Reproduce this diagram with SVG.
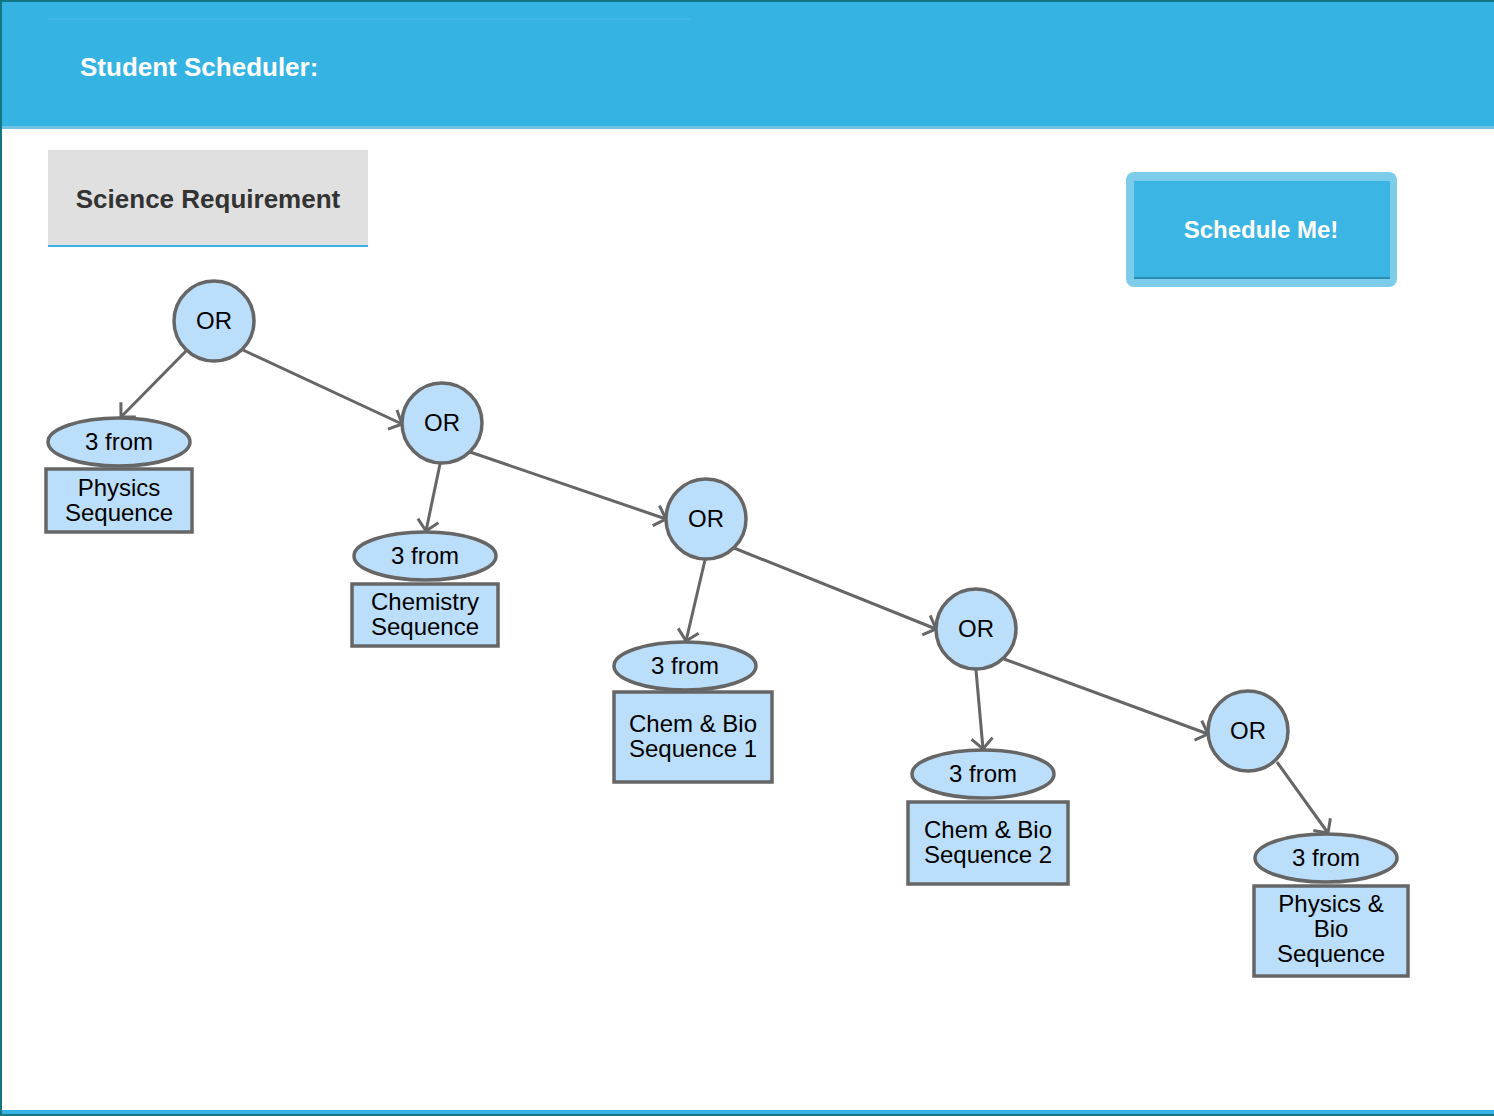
<svg xmlns="http://www.w3.org/2000/svg" width="1494" height="1116" viewBox="0 0 1494 1116">
  <style>
    text { font-family: "Liberation Sans", Arial, Helvetica, sans-serif; }
    .or { fill: #bbdefb; stroke: #666666; stroke-width: 3.5; }
    .node { fill: #bbdefb; stroke: #666666; stroke-width: 3.5; }
    .lbl { font-size: 24px; fill: #000000; text-anchor: middle; }
    .edge { stroke: #666666; stroke-width: 3; fill: none; marker-end: url(#vhead); }
  </style>
  <defs>
    <marker id="vhead" markerUnits="userSpaceOnUse" markerWidth="30" markerHeight="30" viewBox="-15 -15 30 30" refX="0" refY="0" orient="auto">
      <path d="M-10.5,-10.5 L0,0 L-10.5,10.5" fill="none" stroke="#666666" stroke-width="3"/>
    </marker>
  </defs>

  <!-- page background and frame -->
  <rect x="0" y="0" width="1494" height="1116" fill="#ffffff"/>
  <rect x="0" y="0" width="1494" height="129" fill="#35b4e4"/>
  <rect x="0" y="126" width="1494" height="3" fill="#72c3e3"/>
  <line x1="48" y1="19" x2="690" y2="19" stroke="#4dbde8" stroke-width="1"/>
  <rect x="0" y="1110" width="1494" height="4" fill="#35b4e4"/>
  <rect x="0" y="1114" width="1494" height="2" fill="#127782"/>
  <rect x="0" y="0" width="1494" height="2" fill="#127782"/>
  <rect x="0" y="0" width="2" height="1116" fill="#127782"/>

  <g id="header">
    <text x="80" y="76" font-size="26" font-weight="bold" fill="#ffffff">Student Scheduler:</text>
  </g>

  <g id="science-tab">
    <rect x="48" y="150" width="320" height="95" fill="#e0e0e0"/>
    <rect x="48" y="245" width="320" height="2" fill="#35b4e4"/>
    <text x="208" y="208" font-size="26" font-weight="bold" fill="#333333" text-anchor="middle">Science Requirement</text>
  </g>

  <g id="schedule-button">
    <rect x="1126" y="172" width="271" height="115" rx="8" fill="#7dcdea"/>
    <rect x="1134" y="181" width="256" height="98" fill="#3bb5e4"/>
    <rect x="1134" y="277" width="256" height="2" fill="#2a8db6"/>
    <text x="1261" y="238" font-size="24" font-weight="bold" fill="#ffffff" text-anchor="middle">Schedule Me!</text>
  </g>

  <!-- connectors -->
  <g id="connectors">
    <line class="edge" x1="186" y1="351" x2="121" y2="417"/>
    <line class="edge" x1="243" y1="350" x2="402" y2="424"/>
    <line class="edge" x1="440" y1="464" x2="426" y2="531"/>
    <line class="edge" x1="470" y1="452" x2="666" y2="519"/>
    <line class="edge" x1="705" y1="560" x2="686" y2="641"/>
    <line class="edge" x1="734" y1="548" x2="936" y2="629"/>
    <line class="edge" x1="976" y1="670" x2="983" y2="749"/>
    <line class="edge" x1="1004" y1="659" x2="1208" y2="734"/>
    <line class="edge" x1="1277" y1="762" x2="1328" y2="833"/>
  </g>

  <!-- OR nodes -->
  <g id="or1"><circle class="or" cx="214" cy="321" r="40"/><text class="lbl" x="214" y="329">OR</text></g>
  <g id="or2"><circle class="or" cx="442" cy="423" r="40"/><text class="lbl" x="442" y="431">OR</text></g>
  <g id="or3"><circle class="or" cx="706" cy="519" r="40"/><text class="lbl" x="706" y="527">OR</text></g>
  <g id="or4"><circle class="or" cx="976" cy="629" r="40"/><text class="lbl" x="976" y="637">OR</text></g>
  <g id="or5"><circle class="or" cx="1248" cy="731" r="40"/><text class="lbl" x="1248" y="739">OR</text></g>

  <!-- "3 from" selectors with their course sequences -->
  <g id="physics">
    <ellipse class="node" cx="119" cy="442" rx="71" ry="24"/>
    <text class="lbl" x="119" y="450">3 from</text>
    <rect class="node" x="46" y="469" width="146" height="63"/>
    <text class="lbl" x="119" y="496">Physics</text>
    <text class="lbl" x="119" y="521">Sequence</text>
  </g>
  <g id="chemistry">
    <ellipse class="node" cx="425" cy="556" rx="71" ry="24"/>
    <text class="lbl" x="425" y="564">3 from</text>
    <rect class="node" x="352" y="584" width="146" height="62"/>
    <text class="lbl" x="425" y="610">Chemistry</text>
    <text class="lbl" x="425" y="635">Sequence</text>
  </g>
  <g id="chembio1">
    <ellipse class="node" cx="685" cy="666" rx="71" ry="24"/>
    <text class="lbl" x="685" y="674">3 from</text>
    <rect class="node" x="614" y="692" width="158" height="90"/>
    <text class="lbl" x="693" y="732">Chem &amp; Bio</text>
    <text class="lbl" x="693" y="757">Sequence 1</text>
  </g>
  <g id="chembio2">
    <ellipse class="node" cx="983" cy="774" rx="71" ry="24"/>
    <text class="lbl" x="983" y="782">3 from</text>
    <rect class="node" x="908" y="802" width="160" height="82"/>
    <text class="lbl" x="988" y="838">Chem &amp; Bio</text>
    <text class="lbl" x="988" y="863">Sequence 2</text>
  </g>
  <g id="physbio">
    <ellipse class="node" cx="1326" cy="858" rx="71" ry="24"/>
    <text class="lbl" x="1326" y="866">3 from</text>
    <rect class="node" x="1254" y="886" width="154" height="90"/>
    <text class="lbl" x="1331" y="912">Physics &amp;</text>
    <text class="lbl" x="1331" y="937">Bio</text>
    <text class="lbl" x="1331" y="962">Sequence</text>
  </g>
</svg>
